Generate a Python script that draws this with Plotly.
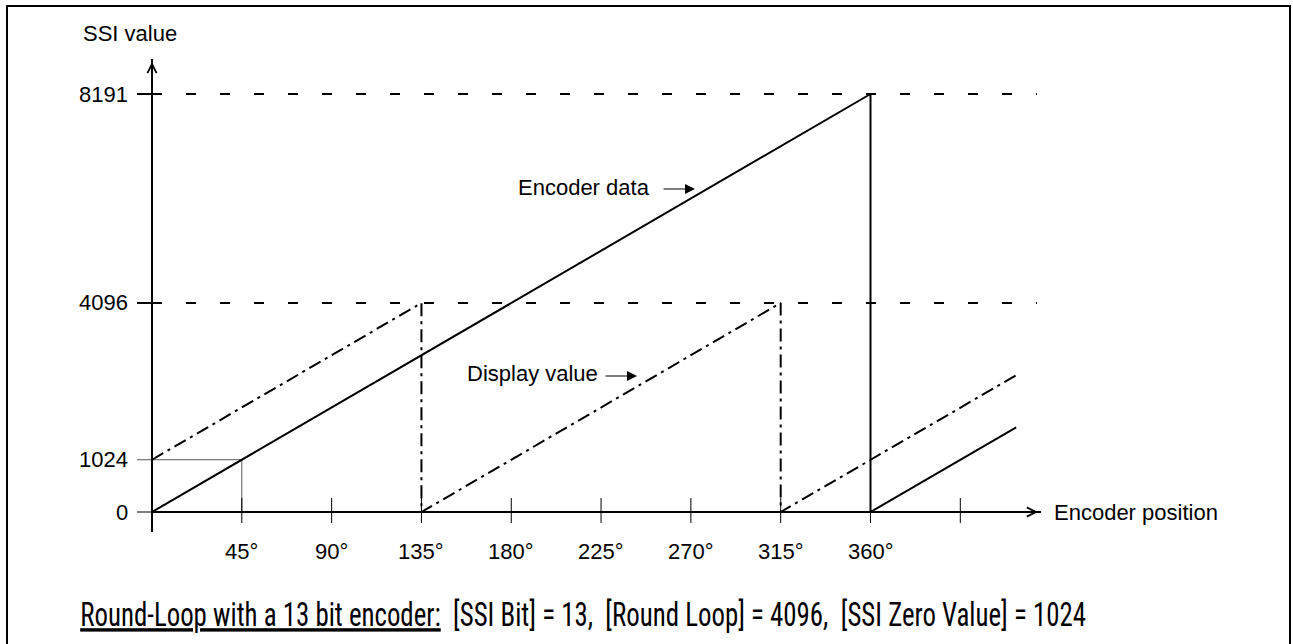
import plotly.graph_objects as go

# ---- chart values -------------------------------------------------------
# encoder position (degrees) vs. raw encoder data (13 bit)
enc_deg = [0, 360, 360, 433]
enc_val = [0, 8191, 0, 1660]

# displayed value with round loop 4096 and zero value 1024
disp_deg = [0, 135, 135, 315, 315, 433]
disp_val = [1024, 4096, 0, 4096, 0, 2680]

# axis ticks and labels
x_tick_deg = [45, 90, 135, 180, 225, 270, 315, 360, 405]
x_tick_lbl = ["45°", "90°", "135°", "180°", "225°", "270°", "315°", "360°", ""]
y_tick_val = [8191, 4096, 1024, 0]
y_tick_lbl = ["8191", "4096", "1024", "0"]
ref_levels = [8191, 4096]
zero_value = 1024
zero_deg = 45

caption = ("<u>Round-Loop with a 13 bit encoder:</u>\u00a0 [SSI Bit] = 13,\u00a0 "
           "[Round Loop] = 4096,\u00a0 [SSI Zero Value] = 1024")

# ---- page geometry ------------------------------------------------------
W, H = 1293, 644
X0, PXD = 152.0, (870.5 - 152.0) / 360.0      # pixel of 0°, pixels per degree
Y0, PYV = 512.0, (512.0 - 94.0) / 8191.0      # pixel of value 0, pixels per count
CAP_SQUEEZE = 0.79                             # horizontal squeeze of the caption


def xd(px):
    return (px - X0) / PXD


def yd(py):
    return (Y0 - py) / PYV


FONT = "Liberation Sans, Arial, sans-serif"
NARROW = "Roboto Condensed, Liberation Sans Narrow, Arial Narrow, sans-serif"

fig = go.Figure()

# guide for the zero value
fig.add_trace(go.Scatter(
    x=[xd(137), zero_deg, zero_deg], y=[zero_value, zero_value, 0],
    mode="lines", line=dict(color="#555555", width=1), hoverinfo="skip"))

# encoder data (solid) and display value (dash-dot)
fig.add_trace(go.Scatter(x=enc_deg, y=enc_val, mode="lines",
                         line=dict(color="black", width=2), hoverinfo="skip"))
fig.add_trace(go.Scatter(x=disp_deg, y=disp_val, mode="lines",
                         line=dict(color="black", width=2, dash="13px,5px,3px,5px"),
                         hoverinfo="skip"))

shapes = []
# dashed reference levels
for lv in ref_levels:
    shapes.append(dict(type="line", xref="x", yref="y", x0=xd(186), x1=xd(1037),
                       y0=lv, y1=lv, line=dict(color="black", width=2, dash="10px,24px")))
    shapes.append(dict(type="line", xref="x", yref="y", x0=xd(137), x1=xd(162),
                       y0=lv, y1=lv, line=dict(color="black", width=2)))
# tick at 0
shapes.append(dict(type="line", xref="x", yref="y", x0=xd(137), x1=0, y0=0, y1=0,
                   line=dict(color="black", width=1)))
# x ticks
for d in x_tick_deg:
    shapes.append(dict(type="line", xref="x", yref="y", x0=d, x1=d,
                       y0=yd(523), y1=yd(498), line=dict(color="black", width=1)))
# axes
shapes.append(dict(type="line", xref="x", yref="y", x0=0, x1=0, y0=yd(532), y1=yd(59),
                   line=dict(color="black", width=2)))
shapes.append(dict(type="line", xref="x", yref="y", x0=0, x1=xd(1041), y0=0, y1=0,
                   line=dict(color="black", width=2)))
# outer frame
shapes.append(dict(type="rect", xref="paper", yref="paper",
                   x0=7 / W, x1=1290 / W, y0=1 - 6 / H, y1=-0.05,
                   line=dict(color="black", width=2)))

ann = []
# axis arrow heads
ann.append(dict(x=0, y=yd(62), ax=0, ay=30, xref="x", yref="y",
                showarrow=True, arrowhead=5, arrowwidth=1.5, arrowsize=1.2,
                arrowcolor="black", text=""))
ann.append(dict(x=xd(1038), y=0, ax=-30, ay=0, xref="x", yref="y",
                showarrow=True, arrowhead=5, arrowwidth=1.5, arrowsize=1.2,
                arrowcolor="black", text=""))

# label arrows
ann.append(dict(x=xd(695), y=yd(189), ax=-33, ay=0, xref="x", yref="y",
                showarrow=True, arrowhead=2, arrowwidth=1, arrowsize=2,
                arrowcolor="black", text=""))
ann.append(dict(x=xd(637), y=yd(376), ax=-33, ay=0, xref="x", yref="y",
                showarrow=True, arrowhead=2, arrowwidth=1, arrowsize=2,
                arrowcolor="black", text=""))

txt = dict(showarrow=False, xref="x", yref="y", font=dict(family=FONT, size=22, color="black"))
ann.append(dict(text="SSI value", x=xd(81), y=yd(33), xanchor="left", yanchor="middle", **txt))
ann.append(dict(text="Encoder position", x=xd(1052), y=0, xanchor="left", yanchor="middle", **txt))
ann.append(dict(text="Encoder data", x=xd(516), y=yd(187), xanchor="left", yanchor="middle", **txt))
ann.append(dict(text="Display value", x=xd(465), y=yd(373), xanchor="left", yanchor="middle", **txt))

for v, lbl in zip(y_tick_val, y_tick_lbl):
    ann.append(dict(text=lbl, x=xd(130), y=v, xanchor="right", yanchor="middle", **txt))
for d, lbl in zip(x_tick_deg, x_tick_lbl):
    if lbl:
        ann.append(dict(text=lbl, x=d, y=yd(551), xanchor="center", yanchor="middle", **txt))

ann.append(dict(text=caption, x=xd(78), y=yd(614),
                xanchor="left", yanchor="middle",
                showarrow=False, xref="x", yref="y",
                font=dict(family=NARROW, size=34, color="black")))

fig.update_layout(
    width=W, height=H, autosize=False,
    margin=dict(l=0, r=0, t=0, b=0, pad=0),
    paper_bgcolor="white", plot_bgcolor="white",
    showlegend=False,
    xaxis=dict(range=[xd(0), xd(W)], visible=False, fixedrange=True),
    yaxis=dict(range=[yd(H), yd(0)], visible=False, fixedrange=True),
    shapes=shapes, annotations=ann,
)

# narrow the caption horizontally, keeping its left edge in place
condense_js = """
var gd = document.getElementById('{plot_id}');
gd.querySelectorAll('.annotation-text').forEach(function (t) {
  if (t.textContent.indexOf('Round-Loop') === 0) {
    var b = t.getBBox();
    var s = %.3f;
    t.setAttribute('transform',
      'translate(' + (b.x * (1 - s)) + ',0) scale(' + s + ',1)');
  }
});
""" % CAP_SQUEEZE

fig.write_html("out.html", config={"displayModeBar": False}, post_script=condense_js)
